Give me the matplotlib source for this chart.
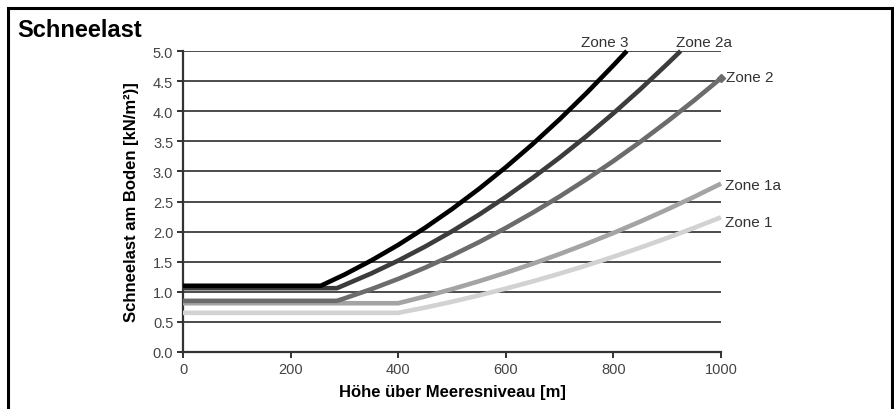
import matplotlib
matplotlib.use("Agg")
import matplotlib.pyplot as plt
from matplotlib.patches import Rectangle

plt.rcParams['font.family'] = ['Liberation Sans', 'DejaVu Sans']

# Ground snow load per zone [kN/m²] over altitude [m]
zone1_h = [0, 400, 450, 500, 550, 600, 650, 700, 750, 800, 850, 900, 950, 1000]
zone1_s = [0.65, 0.65, 0.738, 0.835, 0.940, 1.053, 1.173, 1.302, 1.438, 1.582, 1.734, 1.894, 2.062, 2.238]

zone1a_h = [0, 400, 450, 500, 550, 600, 650, 700, 750, 800, 850, 900, 950, 1000]
zone1a_s = [0.81, 0.81, 0.922, 1.044, 1.175, 1.316, 1.466, 1.627, 1.797, 1.977, 2.167, 2.367, 2.577, 2.797]

zone2_h = [0, 286, 300, 350, 400, 450, 500, 550, 600, 650, 700, 750, 800, 850, 900, 950, 1000]
zone2_s = [0.85, 0.85, 0.890, 1.044, 1.214, 1.401, 1.604, 1.824, 2.061, 2.314, 2.583, 2.869,
           3.172, 3.491, 3.827, 4.179, 4.548]

zone2a_h = [0, 286, 300, 350, 400, 450, 500, 550, 600, 650, 700, 750, 800, 850, 900, 925]
zone2a_s = [1.06, 1.06, 1.113, 1.305, 1.518, 1.751, 2.005, 2.280, 2.576, 2.893, 3.229, 3.586,
            3.965, 4.364, 4.784, 5.0]

zone3_h = [0, 256, 300, 350, 400, 450, 500, 550, 600, 650, 700, 750, 800, 825]
zone3_s = [1.10, 1.10, 1.285, 1.520, 1.779, 2.064, 2.374, 2.709, 3.069, 3.454, 3.865, 4.301, 4.762, 5.0]

x_ticks = [0, 200, 400, 600, 800, 1000]
y_ticks = [0.0, 0.5, 1.0, 1.5, 2.0, 2.5, 3.0, 3.5, 4.0, 4.5, 5.0]

fig = plt.figure(figsize=(8.94, 4.10), dpi=100)
ax = fig.add_axes([183 / 894, 57 / 410, 538 / 894, 301 / 410])

# horizontal grid lines
for yv in y_ticks[1:]:
    ax.plot([0, 1000], [yv, yv], color='#1a1a1a', lw=1.1, zorder=1, solid_capstyle='butt')

series = [
    (zone1_h, zone1_s, '#d2d2d2'),
    (zone1a_h, zone1a_s, '#a4a4a4'),
    (zone2_h, zone2_s, '#6c6c6c'),
    (zone2a_h, zone2a_s, '#3c3c3c'),
    (zone3_h, zone3_s, '#000000'),
]
for h, s, c in series:
    ax.plot(h, s, color=c, lw=3.3, zorder=3, solid_joinstyle='round', solid_capstyle='butt',
            clip_on=False)
ax.plot([zone2_h[-1]], [zone2_s[-1]], marker='D', ms=4.5, color='#6c6c6c', zorder=3, clip_on=False)

ax.set_xlim(0, 1000)
ax.set_ylim(0, 5.0)
ax.set_xticks(x_ticks)
ax.set_yticks(y_ticks)
ax.set_xticklabels([str(v) for v in x_ticks])
ax.set_yticklabels([f"{v:.1f}" for v in y_ticks])

for side in ('top', 'right'):
    ax.spines[side].set_visible(False)
for side in ('left', 'bottom'):
    ax.spines[side].set_color('#333333')
    ax.spines[side].set_linewidth(1.6)
ax.tick_params(axis='both', colors='#333333', labelcolor='#444444', labelsize=10.5,
               length=4, width=1.4, direction='out', pad=3)

ax.set_xlabel('Höhe über Meeresniveau [m]', fontsize=12, fontweight='bold', labelpad=6)
ax.set_ylabel('Schneelast am Boden [kN/m²)]', fontsize=12, fontweight='bold', labelpad=10)

lab = dict(fontsize=11, color='#333333')
ax.text(784, 5.04, 'Zone 3', ha='center', va='bottom', **lab)
ax.text(968, 5.04, 'Zone 2a', ha='center', va='bottom', **lab)
ax.text(1010, 4.56, 'Zone 2', ha='left', va='center', **lab)
ax.text(1007, 2.77, 'Zone 1a', ha='left', va='center', **lab)
ax.text(1007, 2.16, 'Zone 1', ha='left', va='center', **lab)

fig.text(17 / 894, 1 - 37 / 410, 'Schneelast', fontsize=17, fontweight='bold', ha='left', va='baseline')

# frame around the figure
fig.patches.append(Rectangle((8 / 894, -0.05), 884 / 894, 1.05 - 9 / 410, transform=fig.transFigure,
                             fill=False, ec='#000000', lw=2.2))

fig.savefig('out.png', dpi=100)
